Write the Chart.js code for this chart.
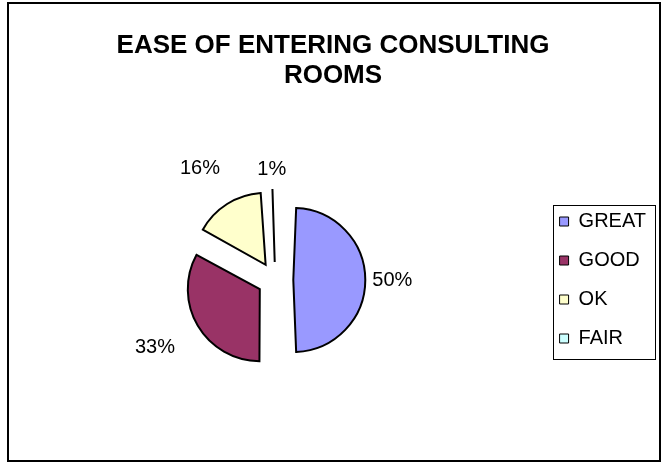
<!DOCTYPE html>
<html>
<head>
<meta charset="utf-8">
<script src="https://cdn.jsdelivr.net/npm/chart.js@4/dist/chart.umd.min.js"></script>
<style>
  html, body { margin: 0; padding: 0; background: #fff; }
  canvas { display: block; }
</style>
</head>
<body>
<canvas id="c" width="666" height="463"></canvas>
<script>
const titleLines = ['EASE OF ENTERING CONSULTING', 'ROOMS'];
const categories = ['GREAT', 'GOOD', 'OK', 'FAIR'];
const shares = [50, 33, 16, 1];
const sliceColors = ['#9999FF', '#993366', '#FFFFCC', '#CCFFFF'];

const EXPLODE = 18;     // how far each wedge is pulled out from the centre (px)
const PIE_RADIUS = 72;
const FONT = "'Liberation Sans', Arial, sans-serif";

Chart.defaults.font.family = FONT;
Chart.defaults.color = '#000';

// Chart.js enlarges a wedge by part of its offset; keep all wedges the same size.
function radiusGrowth(arc) {
  const off = (arc.options.offset || 0) / 4;
  return off * (1 - Math.sin(Math.min(Math.PI, arc.circumference)));
}

const equalRadius = {
  id: 'equalRadius',
  afterDatasetUpdate(chart, args) {
    args.meta.data.forEach(arc => {
      arc.outerRadius = PIE_RADIUS - radiusGrowth(arc);
    });
  }
};

// Percentage labels just outside each exploded wedge
const sliceLabels = {
  id: 'sliceLabels',
  afterDatasetsDraw(chart) {
    const ctx = chart.ctx;
    const meta = chart.getDatasetMeta(0);
    const values = chart.data.datasets[0].data;
    const total = values.reduce((a, b) => a + b, 0);
    ctx.save();
    ctx.font = '20px ' + FONT;
    ctx.fillStyle = '#000';
    ctx.textAlign = 'center';
    ctx.textBaseline = 'middle';
    meta.data.forEach((arc, i) => {
      const off = (arc.options.offset || 0) / 4;
      const r = arc.outerRadius + radiusGrowth(arc);
      const mid = (arc.startAngle + arc.endAngle) / 2;
      const dx = Math.cos(mid), dy = Math.sin(mid);
      const text = Math.round(values[i] / total * 100) + '%';
      const halfW = ctx.measureText(text).width / 2;
      const halfH = 12;
      // labels on the diagonals sit further out so they clear the wedge corners
      const gap = 7 + 26 * Math.abs(Math.sin(2 * mid));
      const d = off + r + gap;
      ctx.fillText(text, arc.x + dx * (d + halfW), arc.y + dy * (d + halfH));
    });
    ctx.restore();
  }
};

// White background, outer frame and a box round the legend
const frame = {
  id: 'frame',
  beforeDraw(chart) {
    const ctx = chart.ctx;
    ctx.save();
    ctx.fillStyle = '#fff';
    ctx.fillRect(0, 0, chart.width, chart.height);
    ctx.strokeStyle = '#000';
    ctx.lineWidth = 2;
    ctx.strokeRect(8, 3, 652, 458);
    ctx.restore();
  },
  afterDraw(chart) {
    const boxes = chart.legend.legendHitBoxes;
    if (!boxes || !boxes.length) return;
    const l = Math.min(...boxes.map(b => b.left)) - 7;
    const r = Math.max(...boxes.map(b => b.left + b.width)) + 9;
    const t = Math.min(...boxes.map(b => b.top)) - 7;
    const b = Math.max(...boxes.map(b => b.top + b.height)) + 10;
    const ctx = chart.ctx;
    ctx.save();
    ctx.strokeStyle = '#000';
    ctx.lineWidth = 1;
    ctx.strokeRect(Math.round(l) + 0.5, Math.round(t) + 0.5, Math.round(r - l), Math.round(b - t));
    ctx.restore();
  }
};

new Chart(document.getElementById('c'), {
  type: 'pie',
  data: {
    labels: categories,
    datasets: [{
      data: shares,
      backgroundColor: sliceColors,
      borderColor: '#000',
      borderWidth: 2,
      borderJoinStyle: 'miter',
      offset: EXPLODE * 4,
      hoverOffset: 0
    }]
  },
  options: {
    responsive: false,
    animation: false,
    devicePixelRatio: 1,
    events: [],
    radius: PIE_RADIUS,
    layout: { padding: { left: 10, right: 10, top: 0, bottom: 0 } },
    plugins: {
      title: {
        display: true,
        text: titleLines,
        color: '#000',
        font: { size: 26, weight: 'bold', lineHeight: 1.154 },
        padding: { top: 31, bottom: 6 }
      },
      legend: {
        position: 'right',
        fullSize: false,
        labels: {
          color: '#000',
          font: { size: 20 },
          boxWidth: 9,
          boxHeight: 9,
          padding: 19,
          generateLabels(chart) {
            return Chart.overrides.doughnut.plugins.legend.labels.generateLabels(chart)
              .map(item => Object.assign(item, { lineWidth: 1 }));
          }
        }
      },
      tooltip: { enabled: false }
    }
  },
  plugins: [equalRadius, sliceLabels, frame]
});
</script>
</body>
</html>
